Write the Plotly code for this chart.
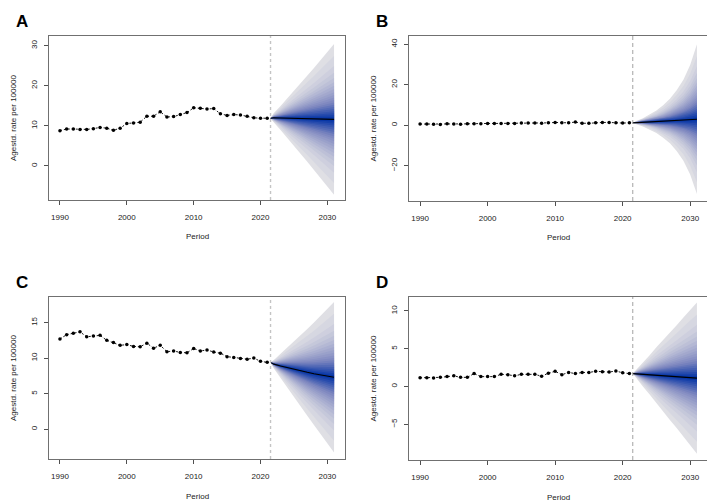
import plotly.graph_objects as go
from statistics import NormalDist

# observed age-standardised rates, 1990-2021
years = list(range(1990, 2022))
split_year = 2021.5
proj_years = list(range(2022, 2032))

a_obs = [8.8, 9.2, 9.2, 9.1, 9.1, 9.3, 9.6, 9.4, 8.9, 9.4, 10.6, 10.7,
         10.9, 12.4, 12.4, 13.5, 12.2, 12.3, 12.8, 13.3, 14.5, 14.4, 14.2, 14.3,
         13.0, 12.6, 12.8, 12.7, 12.4, 12.0, 11.9, 11.9]
b_obs = [0.6, 0.6, 0.5, 0.4, 0.7, 0.6, 0.5, 0.7, 0.8, 0.7, 0.9, 0.9,
         0.9, 0.9, 0.9, 1.1, 1.1, 1.1, 1.0, 1.2, 1.4, 1.3, 1.2, 1.6,
         1.0, 1.0, 1.3, 1.4, 1.4, 1.2, 1.1, 1.2]
c_obs = [12.7, 13.3, 13.5, 13.7, 13.0, 13.1, 13.2, 12.5, 12.2, 11.8, 11.9, 11.65,
         11.6, 12.1, 11.4, 11.8, 10.9, 11.0, 10.8, 10.75, 11.35, 11.0, 11.15, 10.85,
         10.7, 10.2, 10.1, 9.95, 9.85, 10.0, 9.55, 9.4]
d_obs = [1.15, 1.15, 1.1, 1.2, 1.3, 1.4, 1.2, 1.2, 1.7, 1.3, 1.3, 1.3,
         1.6, 1.55, 1.4, 1.6, 1.6, 1.6, 1.35, 1.75, 2.0, 1.55, 1.85, 1.7,
         1.85, 1.85, 2.0, 1.95, 1.9, 2.05, 1.8, 1.7]

# projected mean, 2022-2031
a_mean = [12.0, 11.95, 11.9, 11.85, 11.8, 11.75, 11.7, 11.7, 11.65, 11.6]
b_mean = [1.3, 1.45, 1.6, 1.75, 1.9, 2.1, 2.3, 2.5, 2.75, 3.0]
c_mean = [9.15, 8.9, 8.65, 8.4, 8.2, 8.0, 7.8, 7.6, 7.45, 7.3]
d_mean = [1.67, 1.6, 1.54, 1.48, 1.42, 1.36, 1.3, 1.23, 1.17, 1.1]

# half width of the outermost (98%) band, 2022-2031
a_spread = [1.2, 3.0, 4.9, 6.8, 8.7, 10.7, 12.7, 14.7, 16.7, 18.8]
b_spread = [0.8, 2.0, 3.6, 5.6, 8.0, 11.0, 15.0, 20.0, 27.0, 37.0]
c_spread = [0.6, 1.7, 2.8, 3.9, 5.0, 6.1, 7.2, 8.4, 9.5, 10.6]
d_spread = [0.5, 1.6, 2.6, 3.7, 4.7, 5.8, 6.8, 7.9, 8.9, 10.0]

coverage = [0.05, 0.10, 0.15, 0.20, 0.25, 0.30, 0.35, 0.40, 0.45, 0.50,
            0.55, 0.60, 0.65, 0.70, 0.75, 0.80, 0.85, 0.90, 0.95, 0.98]

panel_letters = ["A", "B", "C", "D"]
x_ticks = [1990, 2000, 2010, 2020, 2030]
a_yticks = [0, 10, 20, 30]
b_yticks = [-20, 0, 20, 40]
c_yticks = [0, 5, 10, 15]
d_yticks = [-5, 0, 5, 10]

W, H = 715, 504
OFF = 8  # page body margin
FONT = "Liberation Sans"


def mix(c1, c2, t):
    a = [int(c1[i:i + 2], 16) for i in (1, 3, 5)]
    b = [int(c2[i:i + 2], 16) for i in (1, 3, 5)]
    return "rgb(%d,%d,%d)" % tuple(round(a[k] + (b[k] - a[k]) * t) for k in range(3))


def ramp(t):
    # 0 = centre (blue) -> 1 = outer (light grey)
    if t < 0.4:
        return mix("#0836a6", "#7d86bf", t / 0.4)
    return mix("#7d86bf", "#dfdfe4", (t - 0.4) / 0.6)


panels = [
    dict(obs=a_obs, mean=a_mean, spread=a_spread, yticks=a_yticks, yr=[-8.5, 32.4],
         px=(49, 345), py=(36, 200), vcol="#c4c4c4", vdash="3px,3px", vw=1.4),
    dict(obs=b_obs, mean=b_mean, spread=b_spread, yticks=b_yticks, yr=[-37.4, 44.1],
         px=(409, 708), py=(36, 201), vcol="#8c8c8c", vdash="4px,3px", vw=0.8),
    dict(obs=c_obs, mean=c_mean, spread=c_spread, yticks=c_yticks, yr=[-4.2, 18.6],
         px=(49, 345), py=(297, 459), vcol="#c4c4c4", vdash="3px,3px", vw=1.4),
    dict(obs=d_obs, mean=d_mean, spread=d_spread, yticks=d_yticks, yr=[-9.74, 11.84],
         px=(409, 708), py=(297, 460), vcol="#8c8c8c", vdash="4px,3px", vw=0.8),
]

z_out = NormalDist().inv_cdf(0.5 + coverage[-1] / 2)
n_bands = len(coverage)

fig = go.Figure()
annotations = []
shapes = []

for i, p in enumerate(panels):
    xa = "x" if i == 0 else "x%d" % (i + 1)
    ya = "y" if i == 0 else "y%d" % (i + 1)
    fx = [split_year] + proj_years
    fm = [p["obs"][-1]] + p["mean"]
    fs = [0.0] + p["spread"]

    # fan, outer band first
    for k in range(n_bands - 1, -1, -1):
        scale = NormalDist().inv_cdf(0.5 + coverage[k] / 2) / z_out
        up = [m + s * scale for m, s in zip(fm, fs)]
        lo = [m - s * scale for m, s in zip(fm, fs)]
        fig.add_trace(go.Scatter(
            x=fx + fx[::-1], y=up + lo[::-1], fill="toself",
            fillcolor=ramp(k / (n_bands - 1)), line=dict(width=0),
            mode="lines", hoverinfo="skip", showlegend=False,
            xaxis=xa, yaxis=ya))

    fig.add_trace(go.Scatter(
        x=fx, y=fm, mode="lines", line=dict(color="black", width=1.1),
        showlegend=False, xaxis=xa, yaxis=ya))

    fig.add_trace(go.Scatter(
        x=years, y=p["obs"], mode="lines+markers",
        line=dict(color="black", width=0.9, dash="2px,2px"),
        marker=dict(color="black", size=3.5, symbol="circle"),
        showlegend=False, xaxis=xa, yaxis=ya))

    shapes.append(dict(type="line", xref=xa, yref=ya + " domain",
                       x0=split_year, x1=split_year, y0=0, y1=1,
                       line=dict(color=p["vcol"], width=p["vw"], dash=p["vdash"])))

    x0, x1 = p["px"][0] - OFF, p["px"][1] - OFF
    y0, y1 = p["py"][0] - OFF, p["py"][1] - OFF
    dom_x = [x0 / W, x1 / W]
    dom_y = [1 - y1 / H, 1 - y0 / H]
    axis_common = dict(showline=True, mirror=True, linecolor="#707070", linewidth=1,
                       ticks="outside", ticklen=4, tickcolor="#505050", tickwidth=1,
                       showgrid=False, zeroline=False,
                       tickfont=dict(family=FONT, size=8, color="#222222"))
    fig.layout[("xaxis" if i == 0 else "xaxis%d" % (i + 1))] = dict(
        domain=dom_x, anchor=ya, range=[1988.36, 2032.64],
        tickvals=x_ticks, ticklabelstandoff=5, **axis_common)
    fig.layout[("yaxis" if i == 0 else "yaxis%d" % (i + 1))] = dict(
        domain=dom_y, anchor=xa, range=p["yr"], tickvals=p["yticks"],
        tickangle=-90, ticklabelstandoff=4, **axis_common)

    annotations.append(dict(text="<b>%s</b>" % panel_letters[i], xref="paper", yref="paper",
                            x=(x0 - 35) / W, y=1 - (y0 - 15) / H, xanchor="left", yanchor="middle",
                            showarrow=False, font=dict(family=FONT, size=17, color="black")))
    annotations.append(dict(text="Period", xref="paper", yref="paper",
                            x=(x0 + x1) / 2 / W, y=1 - (y1 + 37) / H, xanchor="center",
                            yanchor="middle", showarrow=False,
                            font=dict(family=FONT, size=8, color="#222222")))
    annotations.append(dict(text="Agestd. rate per 100000", xref="paper", yref="paper",
                            x=(x0 - 36) / W, y=1 - (y0 + y1) / 2 / H, xanchor="center",
                            yanchor="middle", textangle=-90, showarrow=False,
                            font=dict(family=FONT, size=8, color="#222222")))

fig.update_layout(
    width=W, height=H,
    margin=dict(l=0, r=0, t=0, b=0),
    plot_bgcolor="white", paper_bgcolor="white",
    annotations=annotations, shapes=shapes,
)

fig.write_html("out.html")
